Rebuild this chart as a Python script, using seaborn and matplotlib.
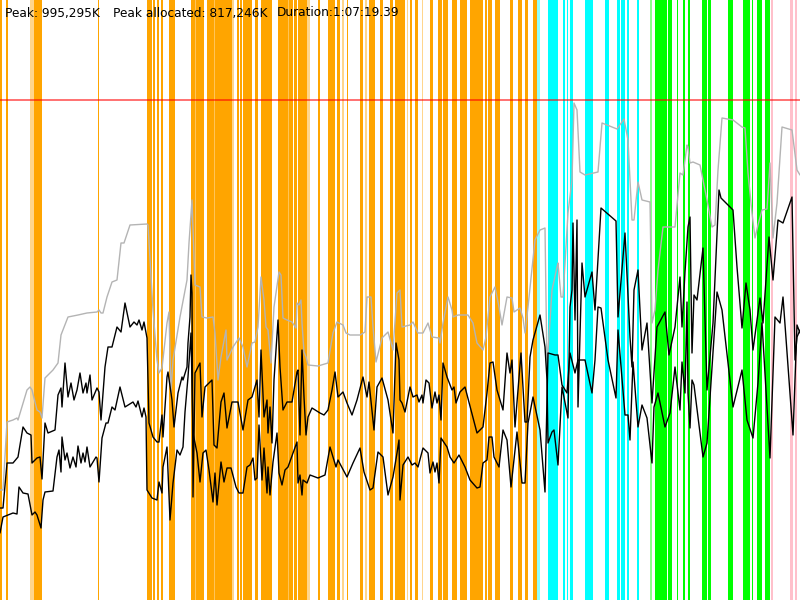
import matplotlib
matplotlib.use("Agg")
import matplotlib.pyplot as plt
import seaborn as sns
import pandas as pd

# ---- data (time in chart units 0..800, memory in chart units, peak = 500) ----
peak_value = 500
peak_text = "Peak: 995,295K"
alloc_text = "Peak allocated: 817,246K"
dur_text = "Duration:1:07:19.39"

gc_start = [0, 6, 30, 34, 97.5, 147, 153, 156.5, 160.5, 169,
            191, 195, 207, 214, 232, 236.7, 240, 243, 255, 261, 278, 288, 293.5, 298, 307, 317.5,
            328, 337, 342, 347, 360, 365, 369, 380, 390,
            395, 407, 410, 415, 422, 430, 438, 443, 452, 460, 470, 485, 488, 495, 510, 518, 525, 533,
            537, 548, 563, 567, 570, 585, 605, 617, 621, 627, 637,
            650, 655, 668, 677, 683, 688, 702, 708, 728, 743, 752, 757, 765,
            771, 790, 795]
gc_end = [2, 7.5, 34, 42, 99, 152, 155, 159, 163, 175,
          204, 196, 232, 215, 233.5, 239, 242, 252, 258, 272, 293, 289, 297, 307, 309.5, 320,
          335, 340, 344, 348, 363, 367, 375, 383, 393,
          405, 408, 412, 418, 423, 433, 442, 448, 457, 467, 483, 487, 492, 500, 513, 522, 528, 537,
          540, 558, 565, 568, 573, 593, 609, 620, 625, 629, 639,
          652, 667, 672, 678, 685, 690, 707, 711, 733, 750, 753, 762, 770,
          773, 793, 797]
gc_kind = ["O", "O", "o", "O", "O", "O", "O", "O", "O", "O",
           "O", "w", "O", "w", "o", "O", "O", "O", "O", "O", "O", "w", "O", "O", "o", "O",
           "O", "O", "o", "O", "O", "o", "O", "O", "O",
           "O", "o", "O", "O", "o", "O", "O", "O", "O", "O", "O", "O", "O", "O", "O", "O", "O", "O",
           "c", "C", "C", "C", "C", "C", "C", "C", "C", "C", "C",
           "g", "G", "G", "G", "G", "G", "G", "G", "G", "G", "G", "G", "G",
           "P", "P", "P"]

heap_t = [0, 3, 7, 13, 17, 18, 27, 30, 32, 37, 40, 42, 45, 48, 53, 58, 61, 68, 78, 87, 97, 99, 101, 103,
          107, 112, 117, 121, 124, 130, 147, 148, 153, 157, 159, 162, 167, 169, 171, 173, 180, 187, 189,
          192, 195, 200,
          202, 207, 213, 215, 218, 221, 226, 227, 233, 239, 243, 247, 252, 255, 258, 261, 264, 266, 268,
          271, 274, 279, 281, 283, 287, 292, 296, 297, 299, 301, 302, 304, 306, 308, 318, 328, 333, 337,
          343, 346, 350, 360, 365, 367, 371, 373, 376, 382, 388, 393, 397, 400,
          402, 410, 413, 418, 423, 428, 432, 439, 440, 443, 448, 452, 453, 458, 468, 473, 477, 483, 486,
          490, 495, 499, 502, 507, 512, 514, 520, 523, 525, 528, 535, 540, 545, 547, 552, 557, 558, 561,
          563, 567, 568,
          572, 574, 577, 580, 585, 598, 602, 607, 617, 624, 628, 632, 634, 638, 642, 650, 652, 655, 658,
          663, 675, 680, 683, 685, 687, 688, 690, 693, 700, 707, 712, 715, 718, 722, 733, 742, 745, 748,
          752, 755, 758, 762, 767, 770, 773, 777, 782, 792, 797, 800]
heap_v = [110, 110, 178, 180, 182, 180, 210, 213, 210, 190, 188, 182, 222, 225, 230, 237, 265, 283, 285,
          287, 288, 290, 287, 287, 303, 318, 320, 357, 357, 375, 376, 375, 290, 240, 227, 232, 277, 288,
          207, 240, 283, 320, 357, 400, 315, 313,
          283, 282, 283, 267, 220, 243, 270, 240, 253, 262, 253, 233, 257, 258, 273, 323, 300, 273, 270,
          237, 293, 328, 325, 282, 280, 278, 272, 297, 295, 300, 277, 248, 243, 235, 234, 237, 267, 278,
          275, 267, 265, 265, 268, 303, 303, 273, 238, 262, 268, 250, 307, 310,
          273, 275, 278, 267, 267, 277, 263, 262, 257, 277, 303, 290, 283, 285, 285, 277, 257, 250, 263,
          303, 313, 293, 275, 303, 302, 288, 292, 282, 267, 293, 360, 370, 372, 233, 310, 333, 337, 303,
          303, 370, 387,
          420, 497, 490, 428, 425, 428, 477, 475, 471, 481, 460, 380, 380, 418, 400, 398, 277, 290, 330,
          373, 373, 427, 425, 440, 455, 453, 437, 438, 435, 400, 373, 375, 430, 482, 480, 473, 472, 427,
          387, 362, 375, 390, 391, 437, 362, 397, 473, 470, 430, 425]

alloc_t = [0, 3, 7, 13, 18, 23, 27, 31, 32, 37, 40, 42, 45, 48, 55, 58, 61, 62, 65, 68, 71, 74, 77, 80,
           83, 86, 87, 90, 92, 97, 99, 101, 105, 108, 112, 117, 121, 125, 130, 134, 137, 139, 142, 144,
           147, 149, 153, 157, 159, 162, 163, 167, 168, 172, 174, 178, 182, 183, 187, 188, 190, 191, 192,
           193, 195, 200,
           202, 205, 212, 214, 217, 221, 224, 227, 232, 238, 243, 248, 252, 255, 257, 259, 261, 264, 267,
           268, 270, 272, 274, 278, 280, 283, 287, 292, 297, 298, 300, 302, 304, 306, 308, 312, 320, 324,
           328, 332, 335, 338, 343, 347, 352, 357, 363, 367, 369, 374, 377, 382, 388, 393, 396, 399, 400,
           402, 405, 410, 413, 417, 419, 422, 423, 426, 429, 432, 435, 437, 439, 441, 443, 447, 452, 454,
           456, 460, 465, 477, 483, 487, 490, 493, 497, 503, 507, 510, 512, 515, 521, 525, 527, 530, 533,
           540, 545, 547, 548, 552, 554, 558, 562, 568, 570, 572, 573, 575, 577, 578, 582, 585,
           592, 595, 601, 616, 618, 625, 630, 632, 634, 638, 642, 647, 652, 657, 665, 669, 675, 680, 682,
           685, 688, 690, 692, 694, 697, 703, 707, 713, 719, 721, 733, 737, 742, 746, 750, 753, 760, 763,
           769, 773, 778, 783, 792, 795, 797, 800]
alloc_v = [92, 92, 137, 137, 143, 173, 167, 165, 137, 142, 143, 121, 177, 167, 170, 205, 212, 193, 237,
           203, 217, 200, 210, 227, 207, 217, 207, 225, 200, 212, 208, 180, 233, 253, 253, 273, 268, 297,
           273, 278, 275, 280, 270, 278, 262, 177, 163, 158, 158, 185, 163, 223, 228, 200, 173, 207, 223,
           220, 233, 257, 283, 325, 307, 103, 227, 237,
           183, 213, 220, 155, 152, 198, 207, 172, 198, 198, 170, 200, 203, 213, 220, 183, 250, 183, 200,
           167, 193, 157, 220, 280, 233, 190, 198, 198, 228, 230, 165, 250, 203, 165, 183, 192, 187, 185,
           190, 210, 228, 203, 208, 197, 185, 200, 223, 203, 218, 170, 213, 222, 200, 167, 257, 240, 200,
           197, 188, 213, 203, 205, 198, 205, 197, 220, 217, 192, 208, 197, 205, 180, 237, 223, 210, 213,
           197, 208, 213, 167, 173, 207, 237, 238, 210, 190, 247, 227, 240, 173, 247, 178, 178, 243, 260,
           285, 253, 220, 157, 168, 170, 135, 213, 182, 293, 310, 377, 280, 380, 193, 337, 303,
           328, 290, 392, 379, 283, 367, 263, 233, 310, 330, 250, 277, 197, 273, 288, 245, 273, 323, 273,
           328, 373, 383, 247, 305, 300, 352, 210, 277, 410, 402, 390, 333, 272, 317, 290, 250, 302, 277,
           363, 320, 380, 377, 403, 240, 263, 270]

used_t = [0, 3, 8, 13, 17, 19, 23, 28, 32, 35, 37, 41, 43, 45, 53, 57, 59, 61, 62, 65, 67, 70, 73, 76,
          78, 81, 83, 85, 87, 90, 96, 97, 99, 102, 106, 108, 112, 115, 120, 125, 133, 136, 138, 142, 144,
          146, 147, 152, 157, 159, 162, 163, 167, 170, 173, 177, 180, 183, 185, 188, 191, 193, 197, 200,
          203, 206, 209, 213, 215, 217, 221, 224, 227, 231, 236, 239, 243, 247, 250, 253, 255, 257, 259,
          262, 264, 267, 268, 270, 273, 277, 279, 282, 285, 288, 297, 298, 300, 302, 303, 307, 310, 318,
          325, 330, 336, 338, 347, 353, 360, 364, 370, 373, 378, 383, 388, 393, 397, 399, 400,
          402, 403, 408, 412, 415, 418, 423, 428, 430, 433, 435, 437, 439, 441, 447, 450, 454, 459, 465,
          470, 477, 480, 483, 487, 489, 492, 494, 499, 503, 507, 511, 517, 522, 525, 528, 533,
          540, 545, 548, 555, 558, 562, 567, 570, 575, 578, 585,
          592, 595, 598, 601, 608, 616, 618, 625, 628, 630, 633, 638, 642, 647, 652, 654, 658, 665, 670,
          675, 680, 682, 685, 687, 688, 690, 692, 694, 703, 707, 717, 722, 733, 742, 747, 753, 758, 762,
          770, 775, 780, 783, 793, 797, 800]
used_v = [67, 83, 85, 87, 86, 113, 107, 106, 85, 88, 85, 72, 100, 108, 109, 143, 150, 128, 163, 140,
          147, 132, 143, 133, 154, 137, 147, 138, 153, 133, 143, 142, 118, 162, 177, 177, 193, 190, 213,
          193, 198, 193, 199, 183, 192, 183, 110, 102, 100, 118, 107, 133, 153, 80, 117, 150, 145, 153,
          188, 223, 267, 167, 147, 118,
          147, 150, 130, 98, 127, 95, 138, 118, 132, 132, 113, 107, 107, 133, 135, 142, 120, 122, 175,
          120, 152, 107, 133, 105, 138, 167, 127, 115, 130, 133, 158, 117, 125, 105, 120, 117, 125, 122,
          125, 153, 133, 140, 123, 137, 152, 128, 110, 112, 148, 143, 105, 123, 147, 160, 100,
          123, 135, 143, 135, 137, 133, 152, 147, 127, 138, 128, 137, 117, 162, 153, 143, 137, 145, 133,
          120, 112, 113, 137, 140, 163, 163, 143, 133, 170, 160, 113, 168, 117, 117, 177, 203,
          170, 108, 247, 245, 245, 215, 207, 247, 227, 240, 240,
          207, 240, 293, 292, 240, 202, 270, 185, 185, 160, 238, 173, 195, 182, 137, 193, 207, 173, 187,
          233, 190, 238, 207, 298, 207, 172, 220, 215, 143, 157, 308, 290, 193, 230, 180, 162, 217, 277,
          142, 283, 277, 303, 165, 275, 267]

# ---- drawing ----
sns.set_theme(style="white")
plt.rcParams["font.family"] = ["DejaVu Sans"]

fig = plt.figure(figsize=(8, 6), dpi=100)
ax = fig.add_axes([0, 0, 1, 1])

kind_color = {"O": ("#FFA500", 1.0), "o": ("#FFA500", 0.45),
              "w": ("#FFFFFF", 0.35),
              "C": ("#00FFFF", 1.0), "c": ("#00FFFF", 0.45),
              "G": ("#00FF00", 1.0), "g": ("#00FF00", 0.45),
              "P": ("#FFC0CB", 1.0)}
for s, e, k in zip(gc_start, gc_end, gc_kind):
    col, a = kind_color[k]
    ax.axvspan(s, e, color=col, alpha=a, lw=0, zorder=1)

heap_df = pd.DataFrame({"t": heap_t, "v": heap_v})
alloc_df = pd.DataFrame({"t": alloc_t, "v": alloc_v})
used_df = pd.DataFrame({"t": used_t, "v": used_v})

sns.lineplot(data=heap_df, x="t", y="v", ax=ax, color="#B4B4B4", lw=1.0, sort=False,
             estimator=None, zorder=3)
sns.lineplot(data=alloc_df, x="t", y="v", ax=ax, color="black", lw=1.0, sort=False,
             estimator=None, zorder=4)
sns.lineplot(data=used_df, x="t", y="v", ax=ax, color="black", lw=1.0, sort=False,
             estimator=None, zorder=4)

ax.axhline(peak_value, color="red", alpha=0.6, lw=1.3, zorder=5)

ax.set_xlim(0, 800)
ax.set_ylim(0, 600)
ax.axis("off")

ax.text(5 / 800, 1 - 13 / 600, peak_text, transform=ax.transAxes, fontsize=8.7,
        va="center", ha="left", color="black", zorder=10)
ax.text(113 / 800, 1 - 13 / 600, alloc_text, transform=ax.transAxes, fontsize=8.7,
        va="center", ha="left", color="black", zorder=10)
ax.text(277 / 800, 1 - 13 / 600, dur_text, transform=ax.transAxes, fontsize=8.7,
        va="center", ha="left", color="black", zorder=10)

fig.savefig("out.png", dpi=100, facecolor="white")
